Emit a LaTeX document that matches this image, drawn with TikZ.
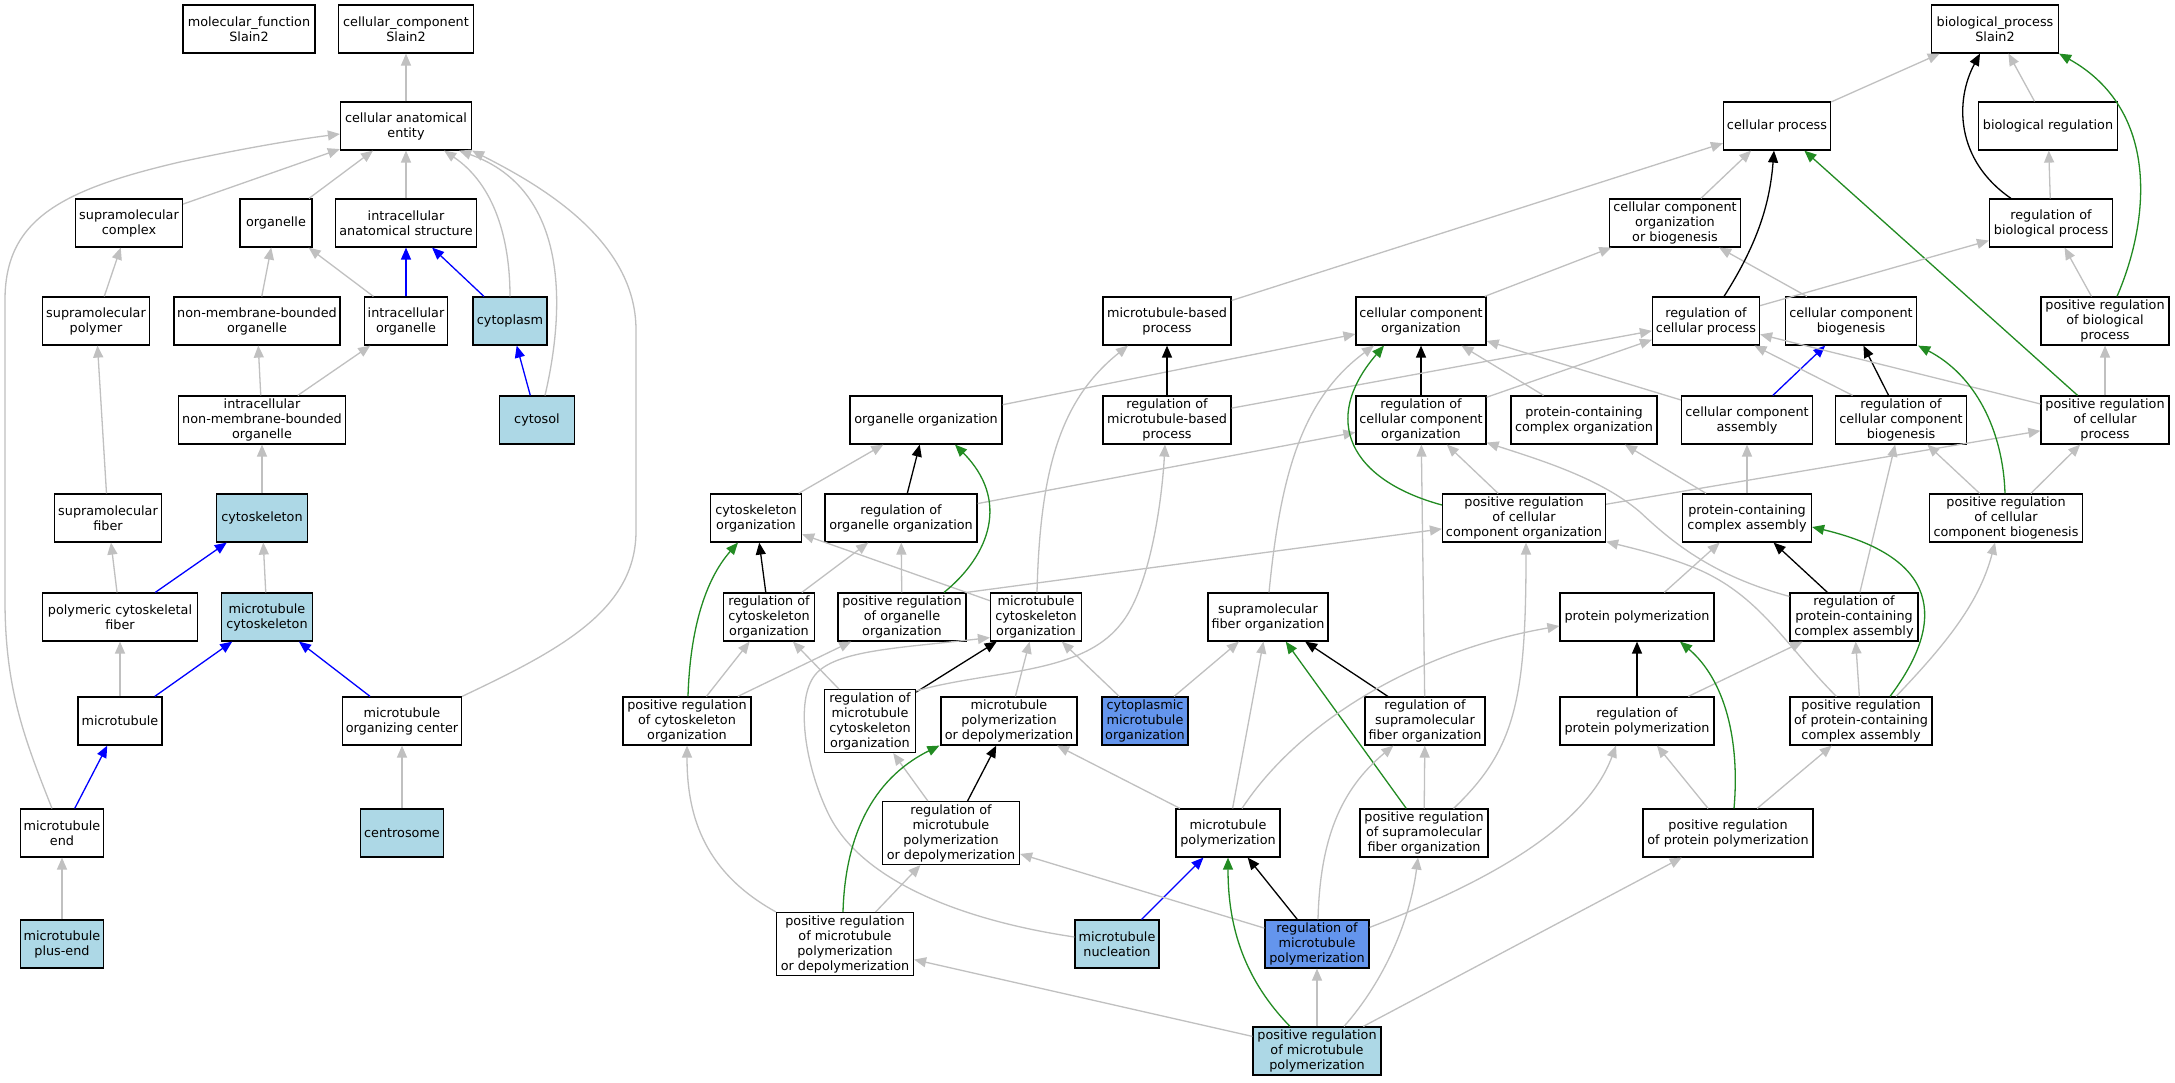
\documentclass[tikz,border=0pt]{standalone}
\usepackage{fontspec}
\setmainfont{DejaVu Sans}
\usetikzlibrary{arrows.meta,calc}
\definecolor{edgegray}{RGB}{192,192,192}
\definecolor{lblue}{RGB}{173,216,230}
\definecolor{cblue}{RGB}{100,149,237}
\definecolor{fgreen}{RGB}{34,139,34}
\definecolor{pblue}{RGB}{0,0,255}
\newcommand{\gofont}{\fontsize{12.8pt}{15pt}\selectfont}
\begin{document}
\begin{tikzpicture}[x=1pt,y=-1pt,
  gonode/.style={draw=black, line width=1.2pt, fill=white, rectangle, inner sep=0pt,
    minimum height=48pt, align=center, font=\gofont},
  lbnode/.style={gonode, fill=lblue},
  cbnode/.style={gonode, fill=cblue},
  tallbox/.style={minimum height=63pt},
  boxw/.style={minimum width=#1},
  edgebase/.style={line width=1.3pt, -{Triangle[length=12pt,width=10pt]}},
  isa/.style={edgebase, draw=edgegray},
  reg/.style={edgebase, draw=black},
  preg/.style={edgebase, draw=fgreen},
  partof/.style={edgebase, draw=pblue}
]
\useasboundingbox (0,0) rectangle (2175,1083);
\fill[white] (0,0) rectangle (2175,1083);

% ---------- cellular component part ----------
\node[gonode, boxw=132pt] (mf) at (249,29) {molecular\_function\\Slain2};
\node[gonode, boxw=135pt] (ccr) at (406,29) {cellular\_component\\Slain2};
\node[gonode, boxw=131pt] (cae) at (406,126) {cellular anatomical\\entity};
\node[gonode, boxw=107pt] (smc) at (129,223) {supramolecular\\complex};
\node[gonode, boxw=72pt] (org) at (276,223) {organelle};
\node[gonode, boxw=141pt] (ias) at (406,223) {intracellular\\anatomical structure};
\node[gonode, boxw=107pt] (smp) at (96,321) {supramolecular\\polymer};
\node[gonode, boxw=166pt] (nmbo) at (257,321) {non-membrane-bounded\\organelle};
\node[gonode, boxw=83pt] (io) at (406,321) {intracellular\\organelle};
\node[lbnode, boxw=74pt] (cyto) at (510,321) {cytoplasm};
\node[gonode, boxw=167pt] (inmbo) at (262,420) {intracellular\\non-membrane-bounded\\organelle};
\node[lbnode, boxw=75pt] (cytosol) at (537,420) {cytosol};
\node[gonode, boxw=107pt] (smf) at (108,518) {supramolecular\\fiber};
\node[lbnode, boxw=91pt] (csk) at (262,518) {cytoskeleton};
\node[gonode, boxw=155pt] (pcf) at (120,617) {polymeric cytoskeletal\\fiber};
\node[lbnode, boxw=91pt] (mtc) at (267,617) {microtubule\\cytoskeleton};
\node[gonode, boxw=84pt] (mt) at (120,721) {microtubule};
\node[gonode, boxw=119pt] (mtoc) at (402,721) {microtubule\\organizing center};
\node[gonode, boxw=83pt] (mte) at (62,833) {microtubule\\end};
\node[lbnode, boxw=83pt] (cent) at (402,833) {centrosome};
\node[lbnode, boxw=83pt] (mtpe) at (62,944) {microtubule\\plus-end};

% ---------- biological process part ----------
\node[gonode, boxw=127pt] (bp) at (1995,29) {biological\_process\\Slain2};
\node[gonode, boxw=107pt] (cp) at (1777,126) {cellular process};
\node[gonode, boxw=139pt] (br) at (2048,126) {biological regulation};
\node[gonode, boxw=131pt] (ccob) at (1675,223) {cellular component\\organization\\or biogenesis};
\node[gonode, boxw=123pt] (rbp) at (2051,223) {regulation of\\biological process};
\node[gonode, boxw=128pt] (mtbp) at (1167,321) {microtubule-based\\process};
\node[gonode, boxw=130pt] (cco) at (1421,321) {cellular component\\organization};
\node[gonode, boxw=107pt] (rcp) at (1706,321) {regulation of\\cellular process};
\node[gonode, boxw=131pt] (ccb) at (1851,321) {cellular component\\biogenesis};
\node[gonode, boxw=128pt] (prbp) at (2105,321) {positive regulation\\of biological\\process};
\node[gonode, boxw=152pt] (oo) at (926,420) {organelle organization};
\node[gonode, boxw=128pt] (rmtbp) at (1167,420) {regulation of\\microtubule-based\\process};
\node[gonode, boxw=130pt] (rcco) at (1421,420) {regulation of\\cellular component\\organization};
\node[gonode, boxw=146pt] (pcco) at (1584,420) {protein-containing\\complex organization};
\node[gonode, boxw=131pt] (cca) at (1747,420) {cellular component\\assembly};
\node[gonode, boxw=131pt] (rccb) at (1901,420) {regulation of\\cellular component\\biogenesis};
\node[gonode, boxw=128pt] (prcp) at (2105,420) {positive regulation\\of cellular\\process};
\node[gonode, boxw=91pt] (cso) at (756,518) {cytoskeleton\\organization};
\node[gonode, boxw=152pt] (roo) at (901,518) {regulation of\\organelle organization};
\node[gonode, boxw=163pt] (prcco) at (1524,518) {positive regulation\\of cellular\\component organization};
\node[gonode, boxw=129pt] (pcca) at (1747,518) {protein-containing\\complex assembly};
\node[gonode, boxw=153pt] (prccb) at (2006,518) {positive regulation\\of cellular\\component biogenesis};
\node[gonode, boxw=91pt] (rcso) at (769,617) {regulation of\\cytoskeleton\\organization};
\node[gonode, boxw=128pt] (proo) at (902,617) {positive regulation\\of organelle\\organization};
\node[gonode, boxw=91pt] (mtcso) at (1036,617) {microtubule\\cytoskeleton\\organization};
\node[gonode, boxw=120pt] (smfo) at (1268,617) {supramolecular\\fiber organization};
\node[gonode, boxw=154pt] (pp) at (1637,617) {protein polymerization};
\node[gonode, boxw=128pt] (rpcca) at (1854,617) {regulation of\\protein-containing\\complex assembly};
\node[gonode, boxw=128pt] (prcso) at (687,721) {positive regulation\\of cytoskeleton\\organization};
\node[gonode, boxw=91pt, tallbox] (rmtcso) at (870,721) {regulation of\\microtubule\\cytoskeleton\\organization};
\node[gonode, boxw=136pt] (mtpd) at (1009,721) {microtubule\\polymerization\\or depolymerization};
\node[cbnode, boxw=86pt] (cmto) at (1145,721) {cytoplasmic\\microtubule\\organization};
\node[gonode, boxw=120pt] (rsmfo) at (1425,721) {regulation of\\supramolecular\\fiber organization};
\node[gonode, boxw=154pt] (rpp) at (1637,721) {regulation of\\protein polymerization};
\node[gonode, boxw=142pt] (prpcca) at (1861,721) {positive regulation\\of protein-containing\\complex assembly};
\node[gonode, boxw=137pt, tallbox] (rmtpd) at (951,833) {regulation of\\microtubule\\polymerization\\or depolymerization};
\node[gonode, boxw=104pt] (mtp) at (1228,833) {microtubule\\polymerization};
\node[gonode, boxw=128pt] (prsmfo) at (1424,833) {positive regulation\\of supramolecular\\fiber organization};
\node[gonode, boxw=170pt] (prpp) at (1728,833) {positive regulation\\of protein polymerization};
\node[gonode, boxw=137pt, tallbox] (prmtpd) at (845,944) {positive regulation\\of microtubule\\polymerization\\or depolymerization};
\node[lbnode, boxw=84pt] (mtn) at (1117,944) {microtubule\\nucleation};
\node[cbnode, boxw=104pt] (rmtp) at (1317,944) {regulation of\\microtubule\\polymerization};
\node[lbnode, boxw=128pt] (prmtp) at (1317,1051) {positive regulation\\of microtubule\\polymerization};

% ---------- edges: cellular component ----------
\draw[isa] (cae) -- (ccr);
\draw[isa] (smc) -- (cae);
\draw[isa] (org) -- (cae);
\draw[isa] (ias) -- (cae);
\draw[isa] (smp) -- (smc);
\draw[isa] (nmbo) -- (org);
\draw[isa] (io) -- (org);
\draw[partof] (io) -- (ias);
\draw[partof] (cyto) -- (ias);
\draw[isa] (inmbo) -- (nmbo);
\draw[isa] (inmbo) -- (io);
\draw[partof] (cytosol) -- (cyto);
\draw[isa] (smf) -- (smp);
\draw[isa] (csk) -- (inmbo);
\draw[isa] (pcf) -- (smf);
\draw[partof] (pcf) -- (csk);
\draw[isa] (mtc) -- (csk);
\draw[isa] (mt) -- (pcf);
\draw[partof] (mt) -- (mtc);
\draw[partof] (mtoc) -- (mtc);
\draw[partof] (mte) -- (mt);
\draw[isa] (cent) -- (mtoc);
\draw[isa] (mtpe) -- (mte);
\draw[isa] ($(mte.north)+(-10,0)$) .. controls (25,740) and (5,690) .. (5,600) -- (5,300)
   .. controls (5,220) and (60,190) .. (180,162) .. controls (250,147) and (300,139) .. ($(cae.west)+(0,8)$);
\draw[isa] (cyto.north) .. controls (510,240) and (495,185) .. ($(cae.south east)+(-28,0)$);
\draw[isa] ($(cytosol.north)+(8,0)$) .. controls (565,310) and (570,190) .. ($(cae.south east)+(-13,0)$);
\draw[isa] (mtoc.north east) .. controls (560,650) and (636,610) .. (636,531) -- (636,330)
   .. controls (636,240) and (540,185) .. (cae.south east);

% ---------- edges: biological process (straight) ----------
\draw[isa] (cp) -- (bp);
\draw[isa] (br) -- (bp);
\draw[isa] (ccob) -- (cp);
\draw[isa] (mtbp) -- (cp);
\draw[preg] (prcp) -- (cp);
\draw[isa] (rbp) -- (br);
\draw[isa] (rcp) -- (rbp);
\draw[isa] (prbp) -- (rbp);
\draw[isa] (prcp) -- (prbp);
\draw[isa] (cco) -- (ccob);
\draw[isa] (ccb) -- (ccob);
\draw[isa] (oo) -- (cco);
\draw[reg] (rcco) -- (cco);
\draw[isa] (pcco) -- (cco);
\draw[isa] (cca) -- (cco);
\draw[reg] (rmtbp) -- (mtbp);
\draw[isa] (rmtbp) -- (rcp);
\draw[isa] (rcco) -- (rcp);
\draw[partof] (cca) -- (ccb);
\draw[reg] (rccb) -- (ccb);
\draw[isa] (rccb) -- (rcp);
\draw[isa] (prcp) -- (rcp);
\draw[isa] (cso) -- (oo);
\draw[reg] (roo) -- (oo);
\draw[isa] (roo) -- (rcco);
\draw[isa] (prcco) -- (rcco);
\draw[isa] (prcco) -- (prcp);
\draw[isa] (pcca) -- (cca);
\draw[isa] (pcca) -- (pcco);
\draw[isa] (prccb) -- (rccb);
\draw[isa] (prccb) -- (prcp);
\draw[reg] (rcso) -- (cso);
\draw[isa] (rcso) -- (roo);
\draw[isa] (proo) -- (roo);
\draw[isa] (proo.north east) -- (prcco);
\draw[isa] (mtcso) -- (cso);
\draw[isa] (pp) -- (pcca);
\draw[reg] (rpcca) -- (pcca);
\draw[isa] (rpcca) -- (rccb);
\draw[isa] (prcso) -- (rcso);
\draw[isa] (prcso) -- (proo);
\draw[isa] (rmtcso) -- (rcso);
\draw[reg] (rmtcso) -- (mtcso);
\draw[isa] (mtpd) -- (mtcso);
\draw[isa] (cmto) -- (mtcso);
\draw[isa] (cmto) -- (smfo);
\draw[reg] (rsmfo) -- (smfo);
\draw[isa] (rsmfo) -- (rcco);
\draw[reg] (rpp) -- (pp);
\draw[isa] (rpp) -- (rpcca);
\draw[isa] (prpcca) -- (rpcca);
\draw[isa] (rmtpd) -- (rmtcso);
\draw[reg] (rmtpd) -- (mtpd);
\draw[isa] (mtp) -- (mtpd);
\draw[isa] (mtp) -- (smfo);
\draw[preg] (prsmfo) -- (smfo);
\draw[isa] (prsmfo) -- (rsmfo);
\draw[isa] (prpp) -- (rpp);
\draw[isa] (prpp) -- (prpcca);
\draw[isa] (prmtpd) -- (rmtpd);
\draw[partof] (mtn) -- (mtp);
\draw[reg] (rmtp) -- (mtp);
\draw[isa] (rmtp) -- (rmtpd);
\draw[isa] (prmtp) -- (prmtpd);
\draw[isa] (prmtp) -- (rmtp);
\draw[isa] (prmtp) -- (prpp);

% ---------- edges: biological process (curved) ----------
\draw[reg] ($(rbp.north)+(-40,0)$) .. controls (1955,160) and (1955,100) .. ($(bp.south)+(-15,0)$);
\draw[preg] ($(prbp.north)+(12,0)$) .. controls (2150,220) and (2160,110) .. (bp.south east);
\draw[reg] ($(rcp.north)+(18,0)$) .. controls (1760,240) and (1770,200) .. ($(cp.south)+(-3,0)$);
\draw[preg] ($(prccb.north)+(-1,0)$) .. controls (2003,430) and (1975,375) .. ($(ccb.south east)+(1,0)$);
\draw[isa] ($(smfo.north)+(1,0)$) .. controls (1280,480) and (1300,400) .. ($(cco.south)+(-47,0)$);
\draw[preg] ($(prcco.west)+(0,-13)$) .. controls (1350,480) and (1320,420) .. ($(cco.south)+(-37,0)$);
\draw[isa] ($(mtcso.north)+(1,0)$) .. controls (1040,470) and (1060,400) .. ($(mtbp.south)+(-39,0)$);
\draw[isa] ($(rmtcso.north east)+(0,2)$) .. controls (990,670) and (1080,675) .. (1120,625)
   .. controls (1150,590) and (1162,500) .. ($(rmtbp.south)+(-2,0)$);
\draw[isa] ($(mtn.west)+(0,-7)$) .. controls (960,920) and (860,880) .. (828,813)
   .. controls (805,765) and (795,700) .. (815,675) .. controls (835,650) and (900,648) .. ($(mtcso.south west)+(0,-4)$);
\draw[isa] (prmtpd.north west) .. controls (700,870) and (687,810) .. (prcso.south);
\draw[preg] ($(prmtpd.north)+(-2,0)$) .. controls (845,840) and (870,780) .. ($(mtpd.south west)+(-1,0)$);
\draw[preg] ($(prcso.north)+(1,0)$) .. controls (690,630) and (705,580) .. ($(cso.south)+(-18,0)$);
\draw[preg] ($(proo.north)+(42,0)$) .. controls (990,555) and (1010,500) .. ($(oo.south)+(29,0)$);
\draw[isa] ($(mtp.north)+(14,0)$) .. controls (1300,720) and (1420,650) .. ($(pp.west)+(0,9)$);
\draw[isa] ($(rmtp.north)+(1,0)$) .. controls (1320,840) and (1340,790) .. ($(rsmfo.south west)+(29,0)$);
\draw[isa] ($(prsmfo.north east)+(-35,0)$) .. controls (1515,750) and (1526,700) .. ($(prcco.south)+(2,0)$);
\draw[preg] ($(prmtp.north)+(-27,0)$) .. controls (1240,975) and (1228,920) .. (mtp.south);
\draw[isa] ($(prmtp.north)+(27,0)$) .. controls (1385,980) and (1410,920) .. ($(prsmfo.south)+(-6,0)$);
\draw[isa] ($(rmtp.north east)+(0,8)$) .. controls (1480,885) and (1585,830) .. ($(rpp.south)+(-21,0)$);
\draw[preg] ($(prpp.north)+(6,0)$) .. controls (1740,740) and (1725,680) .. ($(pp.south)+(43,0)$);
\draw[preg] ($(prpcca.north)+(29,0)$) .. controls (1940,630) and (1950,560) .. ($(pcca.east)+(0,9)$);
\draw[isa] ($(prpcca.north)+(35,0)$) .. controls (1950,640) and (1980,600) .. ($(prccb.south)+(-11,0)$);
\draw[isa] ($(rpcca.north west)+(0,4)$) .. controls (1710,575) and (1670,540) .. (1640,512)
   .. controls (1600,478) and (1540,460) .. ($(rcco.south east)+(0,-2)$);
\draw[isa] ($(prpcca.north west)+(47,0)$) .. controls (1785,645) and (1760,595) .. (1695,568)
   .. controls (1665,556) and (1640,550) .. ($(prcco.south east)+(0,-1)$);
\end{tikzpicture}
\end{document}
